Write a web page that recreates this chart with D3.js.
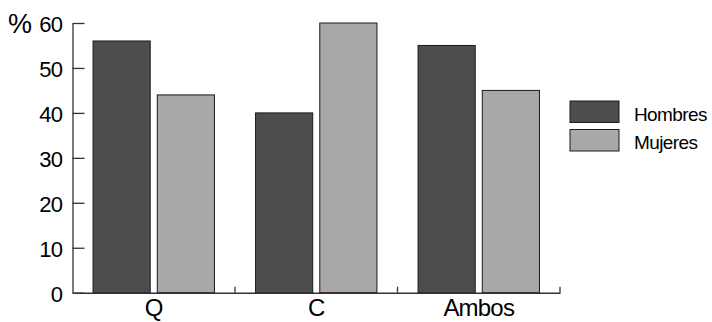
<!DOCTYPE html>
<html><head><meta charset="utf-8">
<script src="https://cdn.jsdelivr.net/npm/d3@7"></script>
<style>body{margin:0;background:#fff}svg{display:block}text{font-family:"Liberation Sans",Arial,sans-serif;fill:#000}</style>
</head><body>
<script>
const categories = ["Q", "C", "Ambos"];
const seriesNames = ["Hombres", "Mujeres"];
const hombres = [56, 40, 55];
const mujeres = [44, 60, 45];
const yTicks = [0, 10, 20, 30, 40, 50, 60];
const colors = ["#4d4d4d", "#a8a8a8"];

const W = 712, H = 322;
const svg = d3.select("body").append("svg").attr("width", W).attr("height", H);
const x0 = 72.5, x1 = 560, yTop = 23, yBot = 292.7;
const x = d3.scaleBand().domain(categories).range([x0, x1]).paddingInner(0).paddingOuter(0);
const xs = d3.scaleBand().domain(seriesNames).range([0, x.bandwidth()]).paddingInner(0.11).paddingOuter(0.32);
const y = d3.scaleLinear().domain([0, 60]).range([yBot, yTop]);

const data = categories.map((c, i) => ({c, vals: [hombres[i], mujeres[i]]}));
const g = svg.append("g");
data.forEach(d => {
  seriesNames.forEach((s, j) => {
    g.append("rect")
      .attr("x", x(d.c) + xs(s))
      .attr("y", y(d.vals[j]))
      .attr("width", xs.bandwidth())
      .attr("height", y(0) - y(d.vals[j]))
      .attr("fill", colors[j])
      .attr("stroke", "#1a1a1a").attr("stroke-width", 1);
  });
});

// y axis
const ya = svg.append("g").attr("transform", `translate(${x0},0)`)
  .call(d3.axisLeft(y).tickValues(yTicks).tickSize(-12).tickSizeOuter(0).tickPadding(10));
ya.selectAll("text").attr("dy", "0.4em").style("font-size", "22px").style("letter-spacing", "-0.6px");
ya.selectAll("line,path").attr("stroke", "#333").attr("stroke-width", 1.3);

// x axis
const xa = svg.append("g").attr("transform", `translate(0,${yBot})`)
  .call(d3.axisBottom(x).tickSize(0).tickSizeOuter(0).tickPadding(6));
xa.selectAll("text").style("font-size", "24px").style("letter-spacing", "-0.8px");
xa.select("path").attr("stroke", "#333").attr("stroke-width", 1.5);
const bounds = categories.map(c => x(c) + x.bandwidth());
svg.append("g").selectAll("line").data(bounds).join("line")
  .attr("x1", d => d).attr("x2", d => d).attr("y1", yBot).attr("y2", yBot - 6)
  .attr("stroke", "#333").attr("stroke-width", 1.3);

// % label
svg.append("text").attr("x", 8).attr("y", 33)
  .style("font-size", "27px").text("%");

// legend
const lg = svg.append("g");
seriesNames.forEach((s, j) => {
  const ly = 101 + j * 28.5;
  lg.append("rect").attr("x", 570).attr("y", ly).attr("width", 49).attr("height", 21.5)
    .attr("fill", colors[j]).attr("stroke", "#1a1a1a").attr("stroke-width", 1);
  lg.append("text").attr("x", 634).attr("y", ly + 19.5)
    .style("font-size", "19px").style("letter-spacing", "-0.6px").text(s);
});
</script>
</body></html>
